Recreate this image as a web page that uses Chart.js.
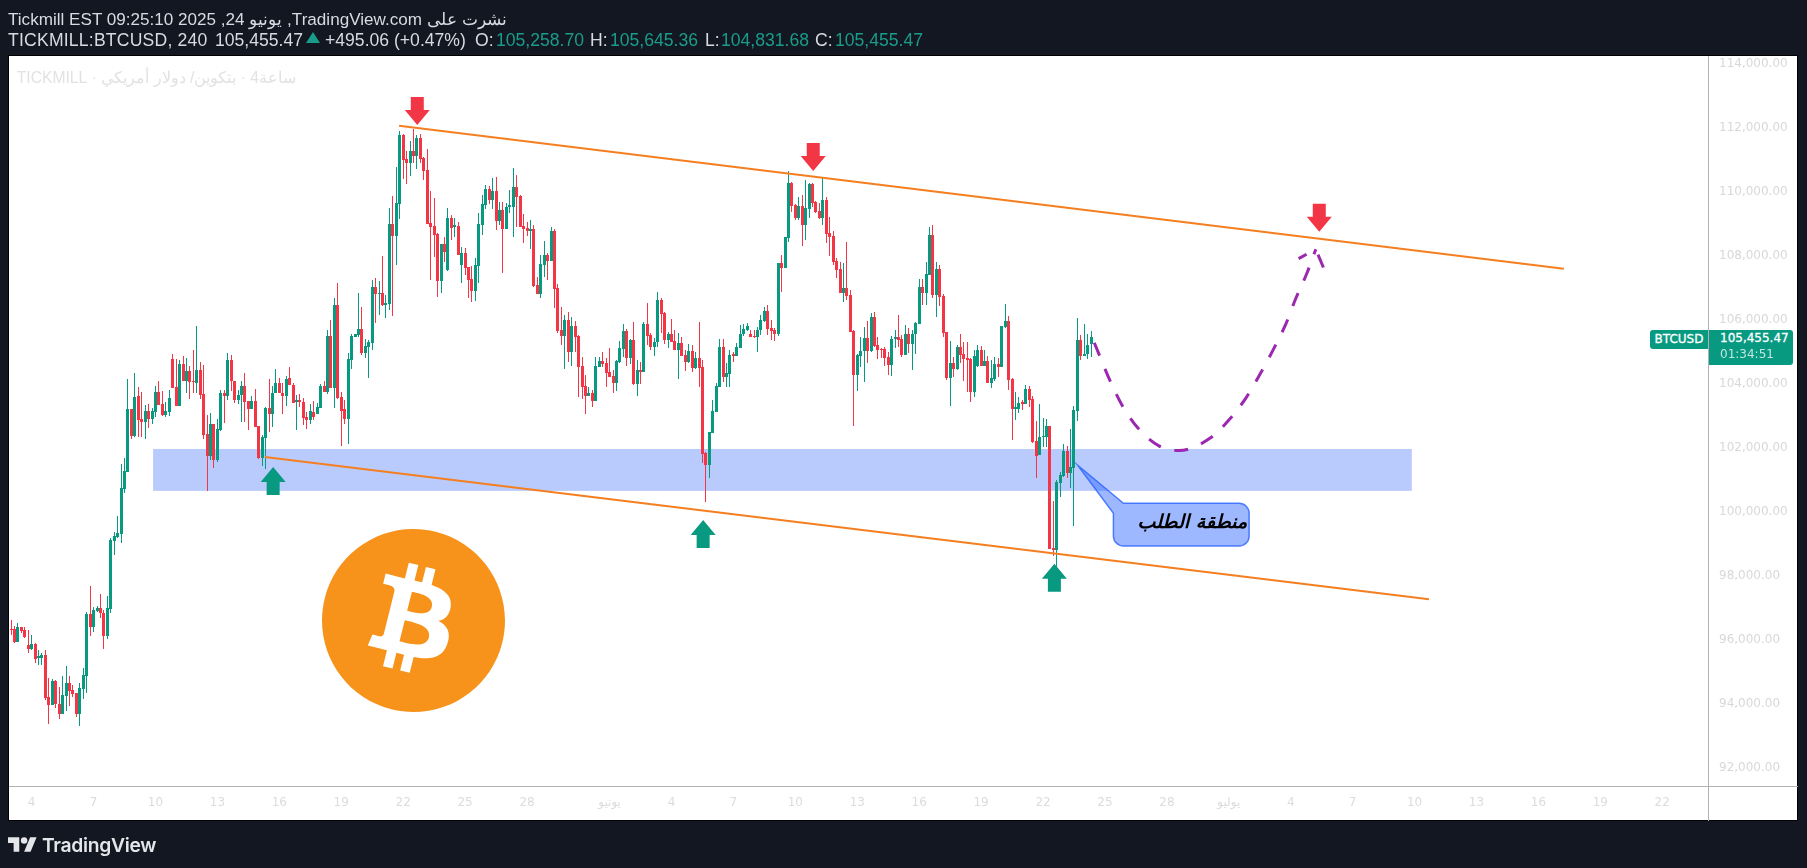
<!DOCTYPE html>
<html>
<head>
<meta charset="utf-8">
<title>BTCUSD</title>
<script src="https://cdn.jsdelivr.net/npm/chart.js@4/dist/chart.umd.min.js"></script>
<style>
    html, body { margin: 0; height: 100%; background: #131722; overflow: hidden; }
    .abs { position: absolute; white-space: nowrap; }
    #panel { left: 8px; top: 55px; width: 1790px; height: 766px; background: #fff; border: 1px solid #000; box-sizing: border-box; }
    #chart { position: absolute; left: 0; top: 0; }
    .hd { font: 17.6px/20px "Liberation Sans", sans-serif; color: #d8dae0; }
    .val { color: #1a9c8a; }
    .line { background: #b2b2b2; }
    #watermark { font: 15.7px/20px "Liberation Sans", sans-serif; color: #e2e2e2; }
    .tag { background: #089981; color: #fff; font: 12px "DejaVu Sans", sans-serif; box-sizing: border-box; -webkit-text-stroke: .3px #fff; }
</style>
</head>
<body>
<div class="abs" id="panel"></div>
<div class="abs line" style="left:1708px;top:56px;width:1px;height:765px"></div>
<div class="abs line" style="left:9px;top:786px;width:1789px;height:1px"></div>
<canvas id="chart" width="1807" height="868"></canvas>

<div class="abs hd" style="left:8px;top:10px;font-size:17.1px">Tickmill EST 09:25:10 2025 ,24 يونيو ,TradingView.com نشرت على</div>
<div class="abs hd" style="left:8px;top:30px;letter-spacing:.2px">TICKMILL:BTCUSD, 240</div>
<div class="abs hd" style="left:215px;top:30px">105,455.47</div>
<div class="abs" style="left:306px;top:32px;width:0;height:0;border-left:7px solid transparent;border-right:7px solid transparent;border-bottom:11px solid #1a9c8a"></div>
<div class="abs hd" style="left:325px;top:30px">+495.06 (+0.47%)</div>
<div class="abs hd" style="left:475px;top:30px">O:</div>
<div class="abs hd val" style="left:496px;top:30px">105,258.70</div>
<div class="abs hd" style="left:590px;top:30px">H:</div>
<div class="abs hd val" style="left:610px;top:30px">105,645.36</div>
<div class="abs hd" style="left:705px;top:30px">L:</div>
<div class="abs hd val" style="left:721px;top:30px">104,831.68</div>
<div class="abs hd" style="left:815px;top:30px">C:</div>
<div class="abs hd val" style="left:835px;top:30px">105,455.47</div>

<div class="abs" id="watermark" dir="rtl" style="right:1511px;top:68px">ساعة4 · بتكوين/ دولار أمريكي · TICKMILL</div>

<svg class="abs" style="left:322px;top:529px" width="183" height="183" viewBox="0 0 64 64">
    <path fill="#f7931a" d="M63.04 39.741c-4.274 17.143-21.638 27.575-38.783 23.301C7.12 58.768-3.313 41.404.962 24.262 5.234 7.117 22.597-3.317 39.737.957c17.144 4.274 27.576 21.64 23.302 38.784z"/>
    <path fill="#fff" transform="translate(1.2 1.2) scale(.95)" d="M46.11 27.441c.636-4.258-2.606-6.547-7.039-8.074l1.438-5.768-3.512-.875-1.4 5.616c-.922-.23-1.87-.447-2.812-.662l1.41-5.653-3.509-.875-1.439 5.766c-.764-.174-1.514-.346-2.242-.527l.004-.018-4.842-1.209-.934 3.75s2.605.597 2.55.634c1.422.355 1.68 1.296 1.636 2.042l-1.638 6.571c.098.025.225.061.365.117l-.37-.092-2.297 9.205c-.174.432-.615 1.08-1.609.834.035.051-2.552-.637-2.552-.637l-1.743 4.02 4.57 1.139c.85.213 1.683.436 2.502.646l-1.453 5.835 3.507.875 1.44-5.772c.957.26 1.887.5 2.797.726L27.504 50.8l3.511.875 1.453-5.823c5.987 1.133 10.49.676 12.383-4.738 1.527-4.36-.075-6.875-3.225-8.516 2.294-.531 4.022-2.04 4.483-5.157zM38.087 38.69c-1.086 4.36-8.426 2.004-10.807 1.412l1.928-7.729c2.38.594 10.011 1.77 8.88 6.317zm1.085-11.312c-.99 3.966-7.1 1.951-9.083 1.457l1.748-7.01c1.983.494 8.367 1.416 7.335 5.553z"/>
</svg>

<div class="abs tag" style="left:1650px;top:330px;width:58px;height:19px;border-radius:3px 0 0 3px;line-height:19px;text-align:center">BTCUSD</div>
<div class="abs tag" style="left:1709px;top:330px;width:84px;height:35px;border-radius:0 3px 3px 0;padding-left:11px">
    <div style="line-height:16px">105,455.47</div>
    <div style="line-height:17px;opacity:.75;-webkit-text-stroke:0">01:34:51</div>
</div>

<svg class="abs" style="left:8px;top:837px" width="29" height="15" viewBox="0 4 36 18">
    <path fill="#e4e6ea" d="M14 22H7V11H0V4h14v18zM28 22h-8l7.5-18h8L28 22z"/>
    <circle fill="#e4e6ea" cx="20" cy="8" r="4"/>
</svg>
<div class="abs" style="left:42px;top:833px;font:600 19.3px/24px Inter, sans-serif;color:#e4e6ea;letter-spacing:-.3px">TradingView</div>

<script>
// OHLC, 4h candles
const opens = [
    96340, 96340, 95940, 96400, 96310, 95830, 95720, 95880, 95450, 95450, 95530, 94220, 93970, 94720, 94000,
    93690, 94250, 94650, 94440, 94340, 93690, 94470, 94890, 96810, 96420, 96920, 96990, 96850, 96140, 96980,
    99100, 99230, 99320, 100720, 101260, 103220, 102380, 103630, 102910, 102810, 103160, 102910, 103130, 103750, 103380,
    103030, 103130, 104780, 103910, 103310, 104630, 104090, 104410, 104090, 104030, 104440, 103690, 102440, 101750, 102750,
    101630, 102560, 103720, 103630, 104750, 104090, 103500, 103660, 103940, 103470, 103220, 103470, 102690, 101690, 102310,
    103250, 103060, 103720, 104030, 103720, 103630, 104190, 103970, 103440, 103470, 103430, 102960, 102870, 103110, 103060,
    103250, 103940, 103750, 105500, 103870, 106470, 103590, 103220, 102910, 104750, 105460, 105530, 105720, 104970, 105160,
    105280, 107030, 106810, 106840, 106470, 106500, 109000, 108620, 109620, 111780, 111030, 110910, 111280, 111120, 111690,
    111050, 110690, 109020, 108940, 108690, 107220, 108380, 107560, 109190, 108920, 108940, 107720, 108090, 107670, 107280,
    106910, 107690, 108970, 109590, 110090, 109750, 110030, 109090, 109440, 108840, 109540, 109530, 110160, 109880, 108940,
    108880, 108790, 108840, 107090, 106810, 107720, 108030, 107840, 108780, 107000, 105690, 105500, 106000, 105000, 105810,
    105500, 104560, 103940, 103630, 103720, 103470, 104540, 104720, 104660, 104380, 104250, 104030, 104690, 105090, 105660,
    104810, 105380, 104000, 104440, 104380, 105880, 105530, 105160, 105310, 106630, 106220, 105380, 105560, 105340, 105060,
    105280, 104910, 104690, 105030, 104500, 104810, 104530, 101850, 101470, 102470, 103130, 103910, 105160, 104220, 104310,
    104910, 104880, 105130, 105560, 105690, 105560, 105500, 105460, 105690, 105970, 106280, 105750, 105690, 105560, 107770,
    107630, 108560, 110280, 109590, 109190, 109560, 108970, 109470, 110250, 109690, 109410, 109190, 109750, 108720, 108630,
    107840, 107590, 106840, 107000, 106780, 105660, 104280, 104880, 105020, 105440, 105030, 106090, 105220, 105090, 105090,
    104840, 104590, 105410, 105470, 105410, 104910, 105560, 105250, 105560, 105880, 107030, 106840, 107410, 108660, 106780,
    107590, 106750, 105630, 104190, 104660, 104470, 105160, 104940, 104810, 104780, 103750, 104560, 105060, 104560, 104720,
    104030, 104160, 104630, 104530, 105780, 105970, 104160, 103220, 103210, 103400, 103380, 103840, 103530, 102220, 101780,
    102340, 102340, 102690, 98880, 98810, 100910, 101130, 101910, 101220, 101380, 103170, 105380, 104880, 104940, 105260
];
const highs = [
    96630, 96440, 96520, 96420, 96400, 96310, 96160, 95920, 95690, 95600, 95690, 94800, 94770, 94750, 94520,
    94880, 95190, 94880, 94590, 94340, 94650, 95130, 96890, 97690, 97040, 97060, 97440, 96940, 97380, 99180,
    99390, 99860, 101500, 101690, 104150, 103220, 104330, 103910, 103750, 103340, 103380, 103240, 103940, 104090, 103780,
    103450, 103810, 104940, 104780, 104750, 104880, 104810, 104560, 105060, 105810, 104700, 104590, 103030, 103090, 102750,
    102910, 103810, 103810, 104970, 104910, 104090, 103810, 104090, 104340, 103470, 103610, 103840, 102690, 102410, 103270,
    104160, 103940, 104470, 104190, 104030, 104250, 104530, 104020, 103660, 103680, 103550, 103140, 103370, 103470, 103400,
    104000, 104090, 105690, 106000, 106690, 107160, 103750, 103500, 104970, 105560, 105560, 106840, 106410, 105410, 105370,
    107250, 107310, 107220, 108000, 106780, 109500, 109870, 110780, 111910, 111810, 111280, 111590, 111970, 111780, 111800,
    111100, 111330, 110030, 109810, 108710, 108380, 108600, 109490, 109280, 109190, 109070, 108290, 108250, 107670, 107690,
    107930, 109330, 109910, 110220, 110190, 110430, 110460, 109700, 109700, 109650, 110060, 110750, 110530, 109910, 109310,
    109070, 109130, 108970, 107350, 108030, 108480, 108080, 108910, 108840, 107130, 106420, 106160, 106250, 106100, 105970,
    105530, 104850, 104280, 103920, 103810, 104840, 104840, 105010, 104800, 105110, 104440, 104750, 105340, 105880, 105730,
    105410, 105940, 104750, 104690, 105940, 106520, 105580, 105430, 106880, 106690, 106260, 105640, 106030, 105690, 105580,
    105460, 105060, 105250, 105220, 105010, 105940, 104750, 101890, 102500, 103500, 104020, 105410, 105410, 104650, 105060,
    105010, 105290, 105840, 105880, 105910, 105690, 105690, 105790, 106160, 106420, 106470, 106000, 105740, 107790, 108030,
    108600, 110660, 110310, 109630, 109850, 109910, 110380, 110270, 110270, 109720, 109650, 110440, 109850, 109210, 108790,
    107930, 107800, 107790, 108440, 106940, 105690, 104940, 105460, 105790, 105970, 106230, 106250, 105460, 105120, 105150,
    105010, 105500, 105690, 106160, 105530, 105840, 105740, 105690, 105950, 107280, 107270, 107810, 108910, 108970, 107810,
    107720, 106810, 105630, 105340, 104850, 105220, 105560, 105300, 105320, 104810, 105060, 105220, 105190, 105060, 104880,
    104750, 104850, 104800, 105810, 106500, 106130, 104180, 103760, 103600, 103500, 103970, 103940, 103630, 102840, 103380,
    102930, 102900, 102690, 100340, 101000, 101260, 102130, 102060, 102590, 103310, 106060, 105530, 105880, 105560, 105650
];
const lows = [
    96160, 95900, 95930, 96210, 96050, 95580, 95690, 95290, 95220, 95220, 94130, 93380, 93970, 93870, 93530,
    93690, 93780, 93940, 94230, 93600, 93310, 94160, 94350, 96130, 96260, 96890, 96680, 95720, 96040, 96850,
    98660, 99200, 99040, 100600, 101260, 102280, 102330, 102350, 102330, 102280, 102630, 102750, 102980, 103340, 103000,
    102970, 103000, 103870, 103310, 103310, 104090, 103710, 103530, 103710, 103710, 103530, 102280, 100660, 101630, 101380,
    101560, 102530, 102780, 103500, 103780, 103400, 103380, 102810, 102810, 102560, 103220, 102660, 101660, 101440, 101340,
    102500, 102660, 103720, 103710, 103060, 103310, 103970, 103400, 102560, 103290, 102720, 102590, 102750, 102870, 103060,
    103250, 103750, 103690, 103870, 103250, 103530, 102070, 102750, 102120, 104470, 105460, 105460, 104910, 104810, 104190,
    105060, 105910, 106160, 106440, 106060, 106310, 106120, 107720, 109160, 110410, 110250, 110500, 110910, 110720, 110900,
    110380, 109000, 107250, 107980, 106730, 106850, 107810, 107530, 108500, 108600, 108030, 107170, 107410, 106680, 106570,
    106590, 107170, 108660, 109470, 109630, 109470, 108810, 108970, 107480, 108840, 109330, 108600, 108920, 108920, 108420,
    108630, 108220, 107040, 106810, 106690, 107350, 107250, 107840, 106390, 105580, 105220, 104470, 104690, 104560, 105000,
    103590, 103530, 103060, 103630, 103280, 103470, 104540, 104540, 103910, 104220, 103720, 103780, 104660, 104840, 104560,
    104630, 103970, 103630, 104000, 104380, 105220, 105060, 104880, 105160, 105580, 105250, 105110, 105310, 105060, 104160,
    104880, 104410, 104650, 104380, 104470, 103920, 101540, 100320, 101060, 102460, 103130, 103910, 104060, 103920, 103920,
    104690, 104880, 105130, 105500, 105670, 105470, 105430, 105010, 105530, 105950, 105530, 105380, 105340, 105500, 106890,
    107630, 108440, 109380, 109130, 109130, 108310, 108500, 109190, 109530, 109350, 109160, 108970, 108410, 108000, 107720,
    107300, 106840, 106570, 106630, 105640, 102700, 103780, 104540, 104060, 104650, 105010, 105170, 104780, 104800, 104560,
    104280, 104250, 105120, 105170, 104850, 104910, 104960, 104440, 104940, 105880, 106470, 106470, 107410, 106680, 106100,
    106440, 105480, 104130, 103310, 104230, 104440, 104650, 104090, 103760, 103450, 103600, 104540, 104560, 104560, 104020,
    103870, 104100, 104230, 104520, 105740, 103810, 102250, 102880, 103080, 103190, 103380, 103290, 102170, 101060, 101780,
    102040, 102040, 98850, 98630, 98080, 100480, 101100, 101060, 100740, 99560, 102850, 104750, 104880, 104780, 104830
];
const closes = [
    96310, 95940, 96400, 96280, 96100, 95720, 95880, 95410, 95470, 95530, 94200, 93970, 94720, 94000, 93690,
    94270, 94650, 94400, 94310, 93690, 94490, 94910, 96810, 96420, 96940, 96990, 96850, 96140, 97000, 99130,
    99250, 99330, 100750, 101280, 103220, 102380, 103590, 102880, 102810, 103160, 102910, 103160, 103750, 103340, 103030,
    103160, 103560, 103880, 103310, 104630, 104090, 104410, 104070, 104060, 104440, 103660, 102410, 101750, 102750, 101630,
    102590, 103720, 103630, 104750, 104080, 103500, 103660, 103940, 103440, 103220, 103470, 102660, 101690, 102340, 103250,
    103060, 103720, 104030, 103720, 103630, 104160, 103970, 103410, 103470, 103440, 102950, 102870, 103160, 102970, 103270,
    103940, 103750, 105500, 103870, 106470, 103560, 103160, 102910, 104780, 105500, 105560, 105720, 104970, 105190, 105310,
    107030, 106810, 106840, 106470, 106530, 109000, 108620, 109660, 111780, 111000, 110910, 111280, 111120, 111690, 111020,
    110670, 109000, 108920, 108660, 107220, 108380, 108130, 109190, 108880, 108940, 108030, 108090, 107640, 107250, 106910,
    107720, 109000, 109630, 110090, 109750, 110030, 109090, 109440, 108840, 109540, 109560, 110160, 109840, 108920, 108840,
    108780, 108840, 107060, 106810, 107750, 108030, 107840, 108780, 106970, 105660, 105500, 106000, 105000, 105810, 105470,
    104530, 103910, 103630, 103710, 103470, 104560, 104720, 104630, 104340, 104220, 104030, 104720, 105130, 105660, 104810,
    105380, 104000, 104440, 104380, 105880, 105500, 105160, 105310, 106630, 106190, 105380, 105560, 105310, 105060, 105280,
    104880, 104690, 105030, 104500, 104810, 104500, 101820, 101470, 102500, 103160, 103940, 105160, 104220, 104330, 104910,
    104880, 105160, 105560, 105720, 105810, 105470, 105460, 105690, 106000, 106280, 105720, 105660, 105560, 107770, 107630,
    108590, 110280, 109560, 109190, 109560, 108970, 109500, 110250, 109660, 109380, 109190, 109750, 108690, 108590, 107810,
    107560, 106840, 107000, 106750, 105640, 104280, 104910, 105030, 105440, 105030, 106090, 105190, 105060, 105060, 104810,
    104590, 105410, 105470, 105380, 104910, 105560, 105250, 105560, 105910, 107030, 106840, 107440, 108660, 106780, 107590,
    106720, 105590, 104190, 104660, 104470, 105160, 104910, 104780, 104750, 103750, 104880, 105060, 104560, 104720, 104030,
    104190, 104630, 104530, 105810, 105970, 104130, 103220, 103250, 103410, 103380, 103840, 103500, 102190, 101750, 102340,
    102380, 102690, 98850, 98810, 100940, 101160, 101910, 101220, 101410, 103190, 105380, 104880, 104940, 105220, 105460
];

// Axis ticks
const priceTicks = [114000, 112000, 110000, 108000, 106000, 104000, 102000, 100000, 98000, 96000, 94000, 92000];
const tickCandles = [7, 25, 43, 61, 79, 97, 115, 133, 151, 175, 193, 211, 229, 247, 265, 283, 301, 319, 337, 355, 373, 391, 409, 427, 445, 463, 481];
const tickLabels = ['4', '7', '10', '13', '16', '19', '22', '25', '28', 'يونيو', '4', '7', '10', '13', '16', '19', '22', '25', '28', 'يوليو', '4', '7', '10', '13', '16', '19', '22'];

// Drawings: x is in candles, y is a price
const upperX = [113.8, 452.4];
const upperY = [112070, 107600];
const lowerX = [74.8, 413.2];
const lowerY = [101720, 97270];
const curveX = [315.9, 320.5, 324.1, 328.7, 334.8, 340.5, 349.6, 355.4, 360.2, 364.3, 368, 371.6, 374.5, 377.7, 380.3];
const curveY = [105290, 104100, 103310, 102610, 102060, 101920, 102310, 102920, 103600, 104350, 105090, 105880, 106680, 107460, 108210];
const barbLeftX = [375.3, 380.3];
const barbLeftY = [107920, 108210];
const barbRightX = [382.5, 380.3];
const barbRightY = [107640, 108210];
const zoneX = [42.3, 408.2];
const zoneY = [101970, 100660];
const downArrowX = [119.1, 234.2, 381.3];
const downArrowY = [112090, 110660, 108760];
const upArrowX = [77.2, 202.2, 304.3];
const upArrowY = [101410, 99750, 98380];
const calloutTip = [311, 101470];

const GREEN = '#089981';
const RED = '#f23645';
const ORANGE = '#f57f20';
const PURPLE = '#9c27b0';

const candleColors = opens.map((o, i) => closes[i] >= o ? GREEN : RED);

function pairs(xs, ys) {
    return xs.map((x, i) => ({ x: x, y: ys[i] }));
}

function drawingLine(xs, ys, color, width, dash, curved) {
    return {
        type: 'line',
        data: pairs(xs, ys),
        borderColor: color,
        borderWidth: width,
        borderDash: dash || [],
        pointRadius: 0,
        cubicInterpolationMode: curved ? 'monotone' : 'default',
        order: 0
    };
}

// Snap candles to whole pixels so bodies and wicks stay crisp
const snapCandles = {
    id: 'snapCandles',
    afterDatasetsUpdate(chart) {
        chart.getSortedVisibleDatasetMetas().forEach(meta => {
            if (meta.type !== 'bar') return;
            meta.data.forEach(bar => {
                bar.x = Math.floor(bar.x) + 0.5;
                bar.y = Math.round(bar.y);
                bar.base = Math.round(bar.base);
            });
        });
    }
};

// Zone under the candles, arrows and callout over them
const drawings = {
    id: 'drawings',
    beforeDatasetsDraw(chart) {
        const { ctx, scales: { x, y } } = chart;
        const left = x.getPixelForValue(zoneX[0]);
        const top = y.getPixelForValue(zoneY[0]);
        ctx.save();
        ctx.fillStyle = '#b9cbfd';
        ctx.fillRect(left, top, x.getPixelForValue(zoneX[1]) - left, y.getPixelForValue(zoneY[1]) - top);
        ctx.restore();
    },
    afterDatasetsDraw(chart) {
        const { ctx, scales: { x, y } } = chart;
        ctx.save();

        function arrow(tipX, tipY, dir, color) {
            ctx.fillStyle = color;
            ctx.beginPath();
            ctx.moveTo(tipX, tipY);
            ctx.lineTo(tipX + 12.5, tipY + dir * 15);
            ctx.lineTo(tipX + 6.5, tipY + dir * 15);
            ctx.lineTo(tipX + 6.5, tipY + dir * 28);
            ctx.lineTo(tipX - 6.5, tipY + dir * 28);
            ctx.lineTo(tipX - 6.5, tipY + dir * 15);
            ctx.lineTo(tipX - 12.5, tipY + dir * 15);
            ctx.closePath();
            ctx.fill();
        }
        downArrowX.forEach((v, i) => arrow(x.getPixelForValue(v), y.getPixelForValue(downArrowY[i]), -1, RED));
        upArrowX.forEach((v, i) => arrow(x.getPixelForValue(v), y.getPixelForValue(upArrowY[i]), 1, GREEN));

        // Callout
        const tx = x.getPixelForValue(calloutTip[0]);
        const ty = y.getPixelForValue(calloutTip[1]);
        const l = tx + 36, r = tx + 171.7, t = ty + 38.3, b = ty + 81, rad = 10;
        ctx.beginPath();
        ctx.moveTo(tx, ty);
        ctx.lineTo(tx + 46, t);
        ctx.arcTo(r, t, r, b, rad);
        ctx.arcTo(r, b, l, b, rad);
        ctx.arcTo(l, b, l, t, rad);
        ctx.lineTo(l, ty + 48.3);
        ctx.closePath();
        ctx.fillStyle = 'rgba(41, 98, 255, 0.45)';
        ctx.fill();
        ctx.strokeStyle = 'rgba(41, 98, 255, 0.8)';
        ctx.lineWidth = 1.5;
        ctx.stroke();
        ctx.fillStyle = '#000';
        ctx.font = 'italic bold 19px "DejaVu Sans"';
        ctx.direction = 'rtl';
        ctx.textAlign = 'right';
        ctx.textBaseline = 'middle';
        ctx.fillText('منطقة الطلب', r - 2, ty + 58);
        ctx.restore();
    }
};

const ctx = document.getElementById('chart').getContext('2d');
new Chart(ctx, {
    type: 'bar',
    data: {
        datasets: [
            drawingLine(upperX, upperY, ORANGE, 2),
            drawingLine(lowerX, lowerY, ORANGE, 2),
            drawingLine(curveX, curveY, PURPLE, 3, [14, 14], true),
            drawingLine(barbLeftX, barbLeftY, PURPLE, 3, [9, 14]),
            drawingLine(barbRightX, barbRightY, PURPLE, 3, [14, 14]),
            {
                data: opens.map((o, i) => ({ x: i + 1, y: [o, closes[i]] })),
                backgroundColor: candleColors,
                barThickness: 3,
                minBarLength: 1.5,
                inflateAmount: 0,
                grouped: false,
                order: 1
            },
            {
                data: opens.map((o, i) => ({ x: i + 1, y: [lows[i], highs[i]] })),
                backgroundColor: candleColors,
                barThickness: 1,
                inflateAmount: 0,
                grouped: false,
                order: 2
            }
        ]
    },
    options: {
        responsive: false,
        animation: false,
        devicePixelRatio: 1,
        layout: { padding: { left: 9, top: 56, right: 9, bottom: 47 } },
        plugins: { legend: { display: false }, tooltip: { enabled: false } },
        scales: {
            x: {
                type: 'linear',
                offset: false,
                bounds: 'data',
                min: 0.416,
                max: 494.3,
                grid: { display: false, drawTicks: false },
                border: { display: false },
                afterBuildTicks(axis) { axis.ticks = tickCandles.map(v => ({ value: v })); },
                afterFit(axis) { axis.height = 35; },
                ticks: {
                    autoSkip: false,
                    maxRotation: 0,
                    padding: 10,
                    color: '#dcdcdc',
                    font: { family: '"DejaVu Sans"', size: 12 },
                    callback: value => tickLabels[tickCandles.indexOf(value)]
                }
            },
            y: {
                type: 'linear',
                position: 'right',
                bounds: 'data',
                min: 91437.5,
                max: 114250,
                grid: { display: false, drawTicks: false },
                border: { display: false },
                afterBuildTicks(axis) { axis.ticks = priceTicks.map(v => ({ value: v })); },
                afterFit(axis) { axis.width = 90; },
                ticks: {
                    padding: 11,
                    color: '#d8d8d8',
                    font: { family: '"DejaVu Sans"', size: 12 },
                    callback: value => value.toLocaleString('en-US', { minimumFractionDigits: 2 })
                }
            }
        }
    },
    plugins: [snapCandles, drawings]
});
</script>
</body>
</html>
